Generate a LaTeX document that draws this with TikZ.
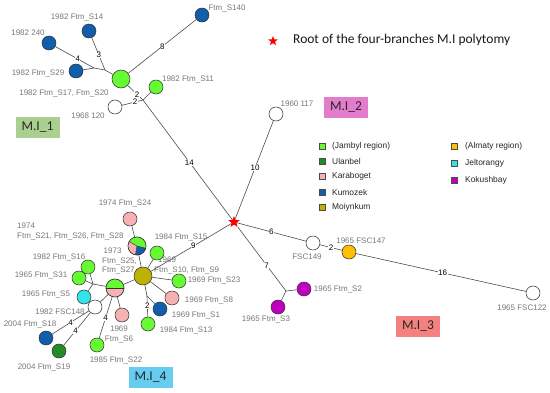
\documentclass[tikz,border=0pt]{standalone}
\usepackage{fontspec}
\setmainfont{Liberation Sans}
\newfontfamily\calib{Carlito}
\usetikzlibrary{shapes.geometric}
\definecolor{jam}{RGB}{102,250,51}
\definecolor{ula}{RGB}{34,140,40}
\definecolor{kar}{RGB}{246,178,178}
\definecolor{kum}{RGB}{16,94,172}
\definecolor{moi}{RGB}{190,178,0}
\definecolor{alm}{RGB}{255,190,0}
\definecolor{jel}{RGB}{51,226,234}
\definecolor{kok}{RGB}{192,0,192}
\definecolor{boxA}{RGB}{169,208,142}
\definecolor{boxB}{RGB}{226,124,203}
\definecolor{boxC}{RGB}{245,128,128}
\definecolor{boxD}{RGB}{102,204,240}
\definecolor{lgray}{RGB}{120,120,120}
\begin{document}
\begin{tikzpicture}[x=1pt,y=-1pt,
 every node/.style={inner sep=0pt},
 nd/.style={circle,draw=black!80,line width=0.55pt,minimum size=14pt},
 bignd/.style={nd,minimum size=18pt},
 con/.style={draw=black!70,line width=0.6pt},
 lbl/.style={font=\fontsize{8}{9.5}\selectfont,text=lgray},
 num/.style={font=\fontsize{8}{8}\selectfont,fill=white,inner sep=0.5pt},
 mbox/.style={font=\calib\fontsize{13.5}{14}\selectfont,minimum width=44pt,minimum height=21pt,text=black!85},
 legsq/.style={draw=black!70,minimum size=6.5pt,line width=0.4pt},
 legt/.style={font=\fontsize{8.4}{9}\selectfont,anchor=west,text=black!85}
]
\useasboundingbox[fill=white] (0,0) rectangle (550,392);

% ---------- labels (drawn first, beneath nodes) ----------
\node[lbl] (ls140) at (227,8) {Ftm\_S140};
\node[lbl] (ls14) at (77,17) {1982 Ftm\_S14};
\node[lbl] (l240) at (28,33) {1982 240};
\node[lbl] (ls29) at (38,73) {1982 Ftm\_S29};
\node[lbl] (lhub1) at (64,93) {1982 Ftm\_S17, Ftm\_S20};
\node[lbl] (ls11) at (188,79) {1982 Ftm\_S11};
\node[lbl] (l120) at (88,116) {1968 120};
\node[lbl] (l117) at (297,104) {1960 117};
\node[lbl] (lf149) at (307,257) {FSC149};
\node[lbl] (lf147) at (361,241) {1965 FSC147};
\node[lbl] (lf122) at (522,308) {1965 FSC122};
\node[lbl] (ls2) at (338,289) {1965 Ftm\_S2};
\node[lbl] (ls3) at (266,319) {1965 Ftm\_S3};
\node[lbl] (ls24) at (125,203) {1974 Ftm\_S24};
\node[lbl,anchor=north west,align=left,font=\fontsize{8}{10}\selectfont] (lpie) at (17,223) {1974\\Ftm\_S21, Ftm\_S26, Ftm\_S28};
\node[lbl] (ls15) at (181,237) {1984 Ftm\_S15};
\node[lbl] (ls16) at (59,257) {1982 Ftm\_S16};
\node[lbl,anchor=north west,align=left,font=\fontsize{8}{9.5}\selectfont] (lhalf) at (102,248) {\hspace*{1.5pt}1973\\Ftm\_S25,\\Ftm\_S27};
\node[lbl,anchor=north west,align=left,font=\fontsize{8}{10}\selectfont] (lmoi) at (154,257) {\hspace*{4pt}1969\\Ftm\_S10, Ftm\_S9};
\node[lbl] (ls23) at (214,280) {1969 Ftm\_S23};
\node[lbl] (ls8) at (209,300) {1969 Ftm\_S8};
\node[lbl] (ls1) at (196,315) {1969 Ftm\_S1};
\node[lbl] (ls13) at (186,330) {1984 Ftm\_S13};
\node[lbl] (ls31) at (41,275) {1965 Ftm\_S31};
\node[lbl] (ls5) at (46,294) {1965 Ftm\_S5};
\node[lbl] (lf148) at (60,312) {1982 FSC148};
\node[lbl] (ls18) at (30,324) {2004 Ftm\_S18};
\node[lbl] (ls19) at (44,367) {2004 Ftm\_S19};
\node[lbl] (ls22) at (116,360) {1985 Ftm\_S22};
\node[lbl,align=center,font=\fontsize{8}{10}\selectfont] (ls6) at (119,334) {1969\\Ftm\_S6};

% ---------- nodes ----------
\node[star,star points=5,star point ratio=2.3,fill=red,minimum size=12pt] (root) at (234,222) {};

% M.I_1
\node[bignd,fill=jam] (hub1) at (121,79) {};
\node[nd,fill=kum] (s140) at (202,15) {};
\node[nd,fill=kum] (s14) at (89,31) {};
\node[nd,fill=kum] (b240) at (49,43) {};
\node[nd,fill=kum] (s29) at (76,71) {};
\node[nd,fill=jam] (s11) at (156,87) {};
\node[nd,fill=white] (w120) at (115,107) {};
\coordinate (jA) at (94,68);
\coordinate (jB) at (105,70);
\coordinate (j3) at (143,100);

% M.I_2
\node[nd,fill=white] (w117) at (276,114) {};

% M.I_3
\node[nd,fill=white] (f149) at (313,243) {};
\node[nd,fill=alm] (f147) at (349,252) {};
\node[nd,fill=white] (f122) at (533,293) {};
\coordinate (jK) at (286,291);
\node[nd,fill=kok] (s2) at (304,289) {};
\node[nd,fill=kok] (s3) at (278,307) {};

% M.I_4
\node[bignd,fill=moi] (moi) at (143,276) {};
\node[bignd] (pie) at (137,246) {};
\node[nd,fill=kar] (s24) at (130,219) {};
\node[nd,fill=jam] (s15) at (157,253) {};
\node[nd,fill=jam] (s23) at (179,281) {};
\node[nd,fill=kar] (s8) at (172,298) {};
\coordinate (jM) at (147,296);
\node[nd,fill=kum] (s1) at (160,309) {};
\node[nd,fill=jam] (s13) at (148,324) {};
\node[bignd] (half) at (115,288) {};
\coordinate (jH) at (93,284);
\node[nd,fill=jam] (s16) at (88,267) {};
\node[nd,fill=jam] (s31) at (79,278) {};
\node[nd,fill=jel] (s5) at (84,297) {};
\node[nd,fill=white] (f148) at (95,307) {};
\node[nd,fill=kum] (s18) at (46,338) {};
\node[nd,fill=ula] (s19) at (59,351) {};
\node[nd,fill=jam] (s22) at (97,345) {};
\node[nd,fill=kar] (s6) at (122,315) {};

% multi-coloured nodes
\fill[jam] (pie.center) -- ++(-15:9pt) arc[start angle=-15,end angle=150,radius=9pt] -- cycle;
\fill[kum] (pie.center) -- ++(-100:9pt) arc[start angle=-100,end angle=-15,radius=9pt] -- cycle;
\fill[kar] (pie.center) -- ++(150:9pt) arc[start angle=150,end angle=260,radius=9pt] -- cycle;
\draw[black!80,line width=0.5pt] (pie.center) -- ++(-15:9pt) (pie.center) -- ++(150:9pt) (pie.center) -- ++(-100:9pt);
\draw[black!80,line width=0.55pt] (pie.center) circle[radius=9pt];
\fill[jam] (half.center) ++(0:9pt) arc[start angle=0,end angle=180,radius=9pt] -- cycle;
\fill[kar] (half.center) ++(180:9pt) arc[start angle=180,end angle=360,radius=9pt] -- cycle;
\draw[black!80,line width=0.5pt] (half.west) -- (half.east);
\draw[black!80,line width=0.55pt] (half.center) circle[radius=9pt];

% ---------- connectors ----------
\path[con] (hub1) -- node[num,pos=0.5]{8} (s140);
\path[con] (s29) -- (jA);
\path[con] (b240) -- node[num,pos=0.58]{4} (jA);
\path[con] (jA) -- (jB) -- (hub1);
\path[con] (s14) -- node[num,pos=0.54]{3} (jB);
\path[con] (hub1) -- node[num,pos=0.62]{2} (j3);
\path[con] (j3) -- (s11);
\path[con] (w120) -- node[num,pos=0.62]{2} (j3);
\path[con] (j3) -- node[num,pos=0.52]{14} (root);
\path[con] (root) -- node[num,pos=0.52]{10} (w117);
\path[con] (root) -- node[num,pos=0.5]{6} (f149);
\path[con] (f149) -- node[num,pos=0.5]{2} (f147);
\path[con] (f147) -- node[num,pos=0.51]{16} (f122);
\path[con] (root) -- node[num,pos=0.6]{7} (jK);
\path[con] (jK) -- (s2);
\path[con] (jK) -- (s3);
\path[con] (root) -- node[num,pos=0.47]{9} (moi);
\path[con] (moi) -- (s15);
\path[con] (moi) -- (pie);
\path[con] (pie) -- (s24);
\path[con] (moi) -- (s23);
\path[con] (moi) -- (s8);
\path[con] (moi) -- (jM);
\path[con] (jM) -- (s1);
\path[con] (jM) -- node[num,pos=0.45]{2} (s13);
\path[con] (moi) -- (half);
\path[con] (half) -- (jH);
\path[con] (jH) -- (s16);
\path[con] (jH) -- (s31);
\path[con] (jH) -- (s5);
\path[con] (half) -- (f148);
\path[con] (f148) -- node[num,pos=0.5]{4} (s18);
\path[con] (f148) -- node[num,pos=0.55]{4} (s19);
\path[con] (half) -- node[num,pos=0.5]{4} (s22);
\path[con] (half) -- (s6);

% ---------- cluster boxes ----------
\node[mbox,fill=boxA] (mi1) at (37.5,127) {M.I\_1};
\node[mbox,fill=boxB] (mi2) at (346,107) {M.I\_2};
\node[mbox,fill=boxC] (mi3) at (418,326) {M.I\_3};
\node[mbox,fill=boxD] (mi4) at (150.5,377.5) {M.I\_4};

% ---------- legend ----------
\node[star,star points=5,star point ratio=2.3,fill=red,minimum size=10pt] (lstar) at (273,41) {};
\node[font=\calib\fontsize{13.5}{14}\selectfont,anchor=west,text=black!90] (lroot) at (293,40) {Root of the four-branches M.I polytomy};

\node[legsq,fill=jam] (q1) at (322,146) {};
\node[legt] (t1) at (332,146) {(Jambyl region)};
\node[legsq,fill=ula] (q2) at (322,161) {};
\node[legt] (t2) at (332,161) {Ulanbel};
\node[legsq,fill=kar] (q3) at (322,176) {};
\node[legt] (t3) at (332,176) {Karaboget};
\node[legsq,fill=kum] (q4) at (322,192) {};
\node[legt] (t4) at (332,192) {Kumozek};
\node[legsq,fill=moi] (q5) at (322,207) {};
\node[legt] (t5) at (332,207) {Moiynkum};
\node[legsq,fill=alm] (q6) at (454,146) {};
\node[legt] (t6) at (465,146) {(Almaty region)};
\node[legsq,fill=jel] (q7) at (454,163) {};
\node[legt] (t7) at (465,163) {Jeltorangy};
\node[legsq,fill=kok] (q8) at (454,180) {};
\node[legt] (t8) at (465,180) {Kokushbay};
\end{tikzpicture}
\end{document}
